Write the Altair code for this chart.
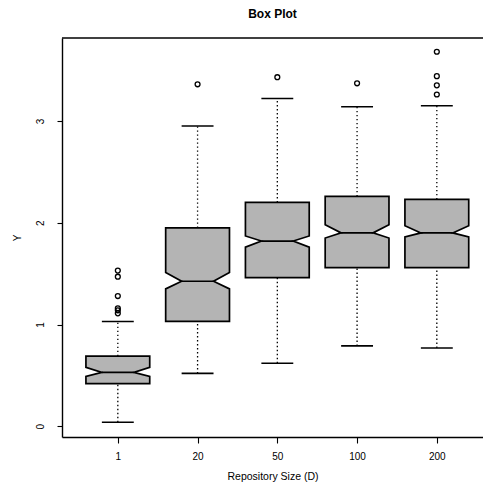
import json
import altair as alt
import pandas as pd

# ---- data ----
categories = ["1", "20", "50", "100", "200"]
lower_whisker = [0.04, 0.52, 0.62, 0.79, 0.77]
q1 = [0.42, 1.03, 1.46, 1.56, 1.56]
notch_lo = [0.49, 1.35, 1.76, 1.85, 1.86]
median = [0.53, 1.425, 1.82, 1.90, 1.90]
notch_hi = [0.58, 1.51, 1.87, 1.98, 1.97]
q3 = [0.69, 1.95, 2.20, 2.26, 2.23]
upper_whisker = [1.03, 2.95, 3.22, 3.14, 3.15]
outlier_groups = [
    [1.53, 1.47, 1.28, 1.16, 1.14, 1.11],
    [3.36],
    [3.43],
    [3.37],
    [3.68, 3.44, 3.35, 3.26],
]
y_ticks = [0, 1, 2, 3]

# ---- styling constants ----
BOX_HALF = 0.4      # half box width (x units)
NOTCH_HALF = 0.2    # half width at the median
CAP_HALF = 0.2      # half staple width
FONT = "Liberation Sans"
FILL = "#b4b4b4"
W, H = 421, 399

pos = list(range(1, len(categories) + 1))

# box outline polygon (horizontal area: y along the box, x..x2 the width)
box_rows = []
for i, p in enumerate(pos):
    for yv, hw in [(q1[i], BOX_HALF), (notch_lo[i], BOX_HALF), (median[i], NOTCH_HALF),
                   (notch_hi[i], BOX_HALF), (q3[i], BOX_HALF)]:
        box_rows.append({"cat": categories[i], "y": yv, "xl": p - hw, "xr": p + hw})
box_df = pd.DataFrame(box_rows)

stats_df = pd.DataFrame({
    "cat": categories, "pos": pos,
    "lw": lower_whisker, "q1": q1, "med": median, "q3": q3, "uw": upper_whisker,
})
stats_df["capl"] = stats_df["pos"] - CAP_HALF
stats_df["capr"] = stats_df["pos"] + CAP_HALF
stats_df["medl"] = stats_df["pos"] - NOTCH_HALF
stats_df["medr"] = stats_df["pos"] + NOTCH_HALF

out_rows = []
for i, grp in enumerate(outlier_groups):
    for v in grp:
        out_rows.append({"cat": categories[i], "pos": pos[i], "y": v})
out_df = pd.DataFrame(out_rows)

label_expr = json.dumps(categories) + "[datum.value - 1]"

xscale = alt.Scale(domain=[0.3, 0.3 + W / 79.75], nice=False, zero=False)
yscale = alt.Scale(domain=[-0.105, 3.815], nice=False, zero=False)

xaxis = alt.Axis(values=pos, labelExpr=label_expr, title="Repository Size (D)",
                 grid=False, domain=True, tickSize=6, labelPadding=8,
                 titleBaseline="alphabetic", titleY=42, titleFontSize=10.5)
yaxis = alt.Axis(values=y_ticks, title="Y", grid=False, domain=True, tickSize=5,
                 labelAngle=270, labelAlign="center", labelBaseline="alphabetic",
                 labelPadding=14, titleBaseline="alphabetic", titleX=-42)


def X(field):
    return alt.X(field, type="quantitative", scale=xscale, axis=xaxis)


def Y(field):
    return alt.Y(field, type="quantitative", scale=yscale, axis=yaxis)


DOT = [1.4, 2.6]
whisk_up = alt.Chart(stats_df).mark_rule(color="black", strokeWidth=1.3, strokeDash=DOT).encode(
    x=X("pos"), y=Y("q3"), y2="uw")
whisk_lo = alt.Chart(stats_df).mark_rule(color="black", strokeWidth=1.3, strokeDash=DOT).encode(
    x=X("pos"), y=Y("lw"), y2="q1")
cap_up = alt.Chart(stats_df).mark_rule(color="black", strokeWidth=1.6).encode(
    x=X("capl"), x2="capr", y=Y("uw"))
cap_lo = alt.Chart(stats_df).mark_rule(color="black", strokeWidth=1.6).encode(
    x=X("capl"), x2="capr", y=Y("lw"))
boxes = alt.Chart(box_df).mark_area(orient="horizontal", fill=FILL, stroke="black",
                                    strokeWidth=1.7, opacity=1).encode(
    y=Y("y"), x=X("xl"), x2="xr", detail="cat:N")
med_line = alt.Chart(stats_df).mark_rule(color="black", strokeWidth=1.7).encode(
    x=X("medl"), x2="medr", y=Y("med"))
outl = alt.Chart(out_df).mark_point(shape="circle", filled=False, color="black",
                                    size=24, strokeWidth=1.3, opacity=1).encode(
    x=X("pos"), y=Y("y"))
# top edge of the plot frame (the right edge lies outside the reference picture)
top_frame = alt.Chart(pd.DataFrame({"k": [0]})).mark_rule(color="black", strokeWidth=1.4).encode(
    x=alt.value(0), x2=alt.value(W), y=alt.value(0))

chart = alt.layer(whisk_up, whisk_lo, cap_up, cap_lo, boxes, med_line, outl, top_frame).properties(
    width=W, height=H,
    autosize=alt.AutoSizeParams(type="none"),
    padding={"left": 54, "top": 30, "right": 0, "bottom": 45},
    title=alt.TitleParams("Box Plot", fontSize=12, fontWeight="bold", font=FONT,
                          anchor="middle", baseline="alphabetic", offset=7, color="black"),
).configure_view(stroke="transparent").configure_axis(
    labelFont=FONT, titleFont=FONT, labelFontSize=10, titleFontSize=10,
    labelColor="black", titleColor="black", tickColor="black", tickWidth=1.1,
    domainColor="black", domainWidth=1.4, titleFontWeight="normal",
)

chart.save("out.html", embed_options={"renderer": "svg", "actions": False})
